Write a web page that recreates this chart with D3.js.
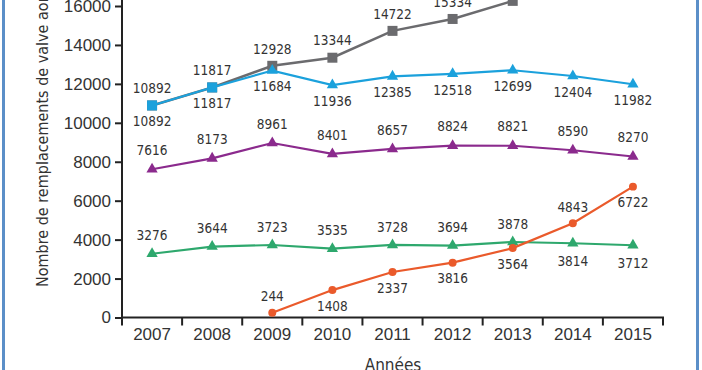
<!DOCTYPE html>
<html>
<head>
<meta charset="utf-8">
<script src="https://cdn.jsdelivr.net/npm/d3@7"></script>
<style>
  body { margin: 0; background: #fff; }
  svg { display: block; font-family: "DejaVu Sans Condensed", "Liberation Sans Narrow", "DejaVu Sans", sans-serif; }
  .axis path, .axis line { stroke: #222; stroke-width: 2; }
  .axis text { fill: #333; font-size: 17px; }
  .lbl { fill: #333; font-size: 13.5px; text-anchor: middle; }
</style>
</head>
<body>
<script>
var years = [2007, 2008, 2009, 2010, 2011, 2012, 2013, 2014, 2015];
var yTicks = [0, 2000, 4000, 6000, 8000, 10000, 12000, 14000, 16000];

// total (grey), surgical (blue), purple, green, TAVI (orange)
var totalValues = [10892, 11817, 12928, 13344, 14722, 15334, 16263, null, null];
var totalLabels = ["10892", "11817", "12928", "13344", "14722", "15334", "16263", null, null];
var blueValues = [10892, 11817, 12684, 11936, 12385, 12518, 12699, 12404, 11982];
var blueLabels = ["10892", "11817", "11684", "11936", "12385", "12518", "12699", "12404", "11982"];
var purpleValues = [7616, 8173, 8961, 8401, 8657, 8824, 8821, 8590, 8270];
var greenValues = [3276, 3644, 3723, 3535, 3728, 3694, 3878, 3814, 3712];
var orangeValues = [null, null, 244, 1408, 2337, 2816, 3564, 4843, 6722];
var orangeLabels = [null, null, "244", "1408", "2337", "3816", "3564", "4843", "6722"];

// label placement: -1 above the point, 1 below
var greenSide = [-1, -1, -1, -1, -1, -1, -1, 1, 1];
var orangeSide = [0, 0, -1, 1, 1, 1, 1, -1, 1];

var width = 702, height = 370;

var svg = d3.select("body").append("svg")
    .attr("width", width)
    .attr("height", height);

// frame lines left/right
svg.append("rect").attr("x", 2).attr("y", 0).attr("width", 3).attr("height", height).attr("fill", "#5b8fc8");
svg.append("rect").attr("x", 696).attr("y", 0).attr("width", 3).attr("height", height).attr("fill", "#5b8fc8");

var x = d3.scaleBand()
    .domain(years)
    .range([122, 663])
    .padding(0);

var y = d3.scaleLinear()
    .domain([0, 16000])
    .range([317.5, 6]);

var bw = x.bandwidth();
function cx(i) { return x(years[i]) + bw / 2; }

// Y axis
var yAxis = svg.append("g")
    .attr("class", "axis")
    .attr("transform", "translate(122,0)")
    .call(d3.axisLeft(y).tickValues(yTicks).tickFormat(d3.format("d"))
      .tickSize(7).tickPadding(4).tickSizeOuter(0));
yAxis.select(".domain").attr("d", "M0," + y(0) + "V0");

// X axis : labels centred, ticks on band edges
var xAxis = svg.append("g")
    .attr("class", "axis")
    .attr("transform", "translate(0," + y(0) + ")")
    .call(d3.axisBottom(x).tickSize(0).tickPadding(10).tickSizeOuter(0));
xAxis.select(".domain").attr("d", "M121,0H664");
var edges = years.map(function(d) { return x(d); }).concat([x(years[years.length - 1]) + bw]);
xAxis.selectAll(".edge")
    .data(edges)
  .enter().append("line")
    .attr("x1", function(d) { return d; })
    .attr("x2", function(d) { return d; })
    .attr("y1", 0)
    .attr("y2", 8);

// axis titles
svg.append("text")
    .attr("transform", "translate(48,287) rotate(-90)")
    .attr("fill", "#333")
    .style("font-size", "16px")
    .text("Nombre de remplacements de valve aortique");

svg.append("text")
    .attr("x", 393)
    .attr("y", 371)
    .attr("text-anchor", "middle")
    .attr("fill", "#333")
    .style("font-size", "17px")
    .text("Années");

function points(values, labels) {
  return values.map(function(v, i) { return {v: v, i: i, label: labels ? labels[i] : String(v)}; })
    .filter(function(d) { return d.v != null; });
}

var line = d3.line()
    .defined(function(d) { return d != null; })
    .x(function(d, i) { return cx(i); })
    .y(function(d) { return y(d); });

function drawSeries(values, color, lw, shape, size) {
  svg.append("path")
      .datum(values)
      .attr("fill", "none")
      .attr("stroke", color)
      .attr("stroke-width", lw)
      .attr("d", line);

  svg.append("g").selectAll("path")
      .data(points(values))
    .enter().append("path")
      .attr("transform", function(d) { return "translate(" + cx(d.i) + "," + y(d.v) + ")"; })
      .attr("fill", color)
      .attr("d", function(d) {
        var sh = typeof shape === "function" ? shape(d.i) : shape;
        return d3.symbol().type(sh).size(sh === d3.symbolSquare ? 100 : size)();
      });
}

function drawLabels(values, labels, side, dist) {
  svg.append("g").selectAll("text")
      .data(points(values, labels).filter(function(d) { return d.label != null; }))
    .enter().append("text")
      .attr("class", "lbl")
      .attr("x", function(d) { return cx(d.i); })
      .attr("y", function(d) {
        var s = Array.isArray(side) ? side[d.i] : side;
        return y(d.v) + s * dist;
      })
      .attr("dy", "0.35em")
      .text(function(d) { return d.label; });
}

drawSeries(greenValues, "#2ea86d", 2.2, d3.symbolTriangle, 55);
drawSeries(purpleValues, "#8b2a8d", 2.2, d3.symbolTriangle, 55);
drawSeries(orangeValues, "#ea5a2b", 2.2, d3.symbolCircle, 50);
drawSeries(totalValues, "#6b6b6e", 2.5, d3.symbolSquare, 100);
drawSeries(blueValues, "#1ba1dc", 2.2, function(i) {
  return blueValues[i] === totalValues[i] ? d3.symbolSquare : d3.symbolTriangle;
}, 55);

drawLabels(totalValues, totalLabels, -1, 17);
drawLabels(blueValues, blueLabels, 1, 16);
drawLabels(purpleValues, null, -1, 19);
drawLabels(greenValues, null, greenSide, 18);
drawLabels(orangeValues, orangeLabels, orangeSide, 16);
</script>
</body>
</html>
